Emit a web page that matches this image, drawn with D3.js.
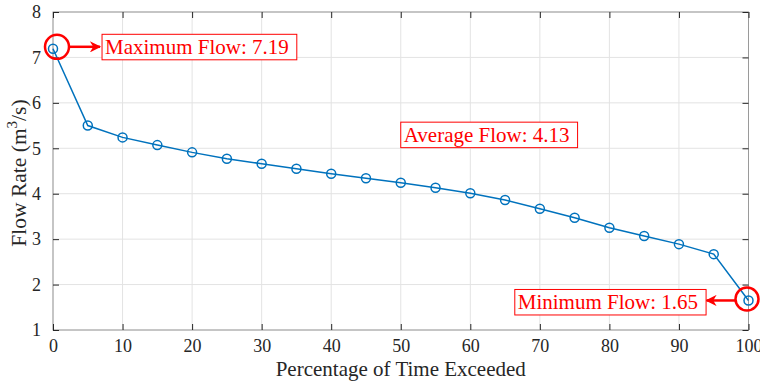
<!DOCTYPE html>
<html>
<head>
<meta charset="utf-8">
<script src="https://cdn.jsdelivr.net/npm/d3@7"></script>
<style>
  body { margin: 0; background: #fff; }
  text { font-family: "Liberation Serif", "Times New Roman", serif; }
</style>
</head>
<body>
<svg id="chart" width="760" height="382"></svg>
<script>
const exceedance = [0, 5, 10, 15, 20, 25, 30, 35, 40, 45, 50, 55, 60, 65, 70, 75, 80, 85, 90, 95, 100];
const flowRate = [7.19, 5.5, 5.24, 5.07, 4.91, 4.77, 4.66, 4.55, 4.44, 4.34, 4.24, 4.13, 4.01, 3.86, 3.67, 3.47, 3.25, 3.07, 2.89, 2.67, 1.65];
const xTicks = [0, 10, 20, 30, 40, 50, 60, 70, 80, 90, 100];
const yTicks = [1, 2, 3, 4, 5, 6, 7, 8];
const avgFlow = 4.13;

const margin = { top: 12, right: 11.5, bottom: 52, left: 53 };
const drawWidth = 760;
const drawHeight = 382;
const width = drawWidth - margin.left - margin.right;
const height = drawHeight - margin.top - margin.bottom;

const lineColor = "#0072bd";
const red = "#ff0000";
const axisColor = "#262626";
const serif = "'Liberation Serif', 'Times New Roman', serif";

const svg = d3.select("#chart");
const g = svg.append("g").attr("transform", "translate(" + margin.left + "," + margin.top + ")");

const xScale = d3.scaleLinear().domain([0, 100]).range([0, width]);
const yScale = d3.scaleLinear().domain([1, 8]).range([height, 0]);

// grid
g.append("g")
  .selectAll("line")
  .data(xTicks)
  .enter()
  .append("line")
  .attr("x1", (d) => xScale(d))
  .attr("x2", (d) => xScale(d))
  .attr("y1", 0)
  .attr("y2", height)
  .attr("stroke", "#e3e3e3");

g.append("g")
  .selectAll("line")
  .data(yTicks)
  .enter()
  .append("line")
  .attr("x1", 0)
  .attr("x2", width)
  .attr("y1", (d) => yScale(d))
  .attr("y2", (d) => yScale(d))
  .attr("stroke", "#e3e3e3");

// box
g.append("rect")
  .attr("x", 0)
  .attr("y", 0)
  .attr("width", width)
  .attr("height", height)
  .attr("fill", "none")
  .attr("stroke", "#9a9a9a");

// axes, ticks pointing inward
const fmt = d3.format("d");
const xAxis = d3.axisBottom(xScale).tickValues(xTicks).tickFormat(fmt).tickSize(-6).tickPadding(9);
const yAxis = d3.axisLeft(yScale).tickValues(yTicks).tickFormat(fmt).tickSize(-6).tickPadding(12);
const xTop = d3.axisTop(xScale).tickValues(xTicks).tickSize(-6).tickFormat("");
const yRight = d3.axisRight(yScale).tickValues(yTicks).tickSize(-6).tickFormat("");

const gx = g.append("g").attr("transform", "translate(0," + height + ")").call(xAxis);
const gy = g.append("g").call(yAxis);
const gxt = g.append("g").call(xTop);
const gyr = g.append("g").attr("transform", "translate(" + width + ",0)").call(yRight);

[gx, gy, gxt, gyr].forEach((a) => {
  a.attr("font-family", serif).attr("font-size", 18);
  a.select(".domain").remove();
  a.selectAll(".tick line").attr("stroke", axisColor);
  a.selectAll("text").attr("fill", axisColor).style("font-size", "18px");
});

// axis labels
g.append("text")
  .attr("x", width / 2)
  .attr("y", height + 46)
  .attr("text-anchor", "middle")
  .attr("fill", axisColor)
  .style("font-size", "21px")
  .text("Percentage of Time Exceeded");

const yLabel = g.append("text")
  .attr("transform", "translate(-27," + (height / 2 + 2) + ") rotate(-90)")
  .attr("text-anchor", "middle")
  .attr("fill", axisColor)
  .style("font-size", "21.5px");
yLabel.append("tspan").text("Flow Rate (m");
yLabel.append("tspan").attr("dy", -9).style("font-size", "15px").text("3");
yLabel.append("tspan").attr("dy", 9).text("/s)");

// line + markers
const line = d3.line()
  .x((d, i) => xScale(exceedance[i]))
  .y((d) => yScale(d));

g.append("path")
  .datum(flowRate)
  .attr("d", line)
  .attr("fill", "none")
  .attr("stroke", lineColor)
  .attr("stroke-width", 1.5);

g.selectAll(".marker")
  .data(flowRate)
  .enter()
  .append("circle")
  .attr("class", "marker")
  .attr("cx", (d, i) => xScale(exceedance[i]))
  .attr("cy", (d) => yScale(d))
  .attr("r", 4.5)
  .attr("fill", "none")
  .attr("stroke", lineColor)
  .attr("stroke-width", 1.5);

// annotations
const maxIdx = flowRate.indexOf(d3.max(flowRate));
const minIdx = flowRate.indexOf(d3.min(flowRate));

svg.append("defs").append("marker")
  .attr("id", "arrow")
  .attr("viewBox", "0 0 10 10")
  .attr("refX", 9)
  .attr("refY", 5)
  .attr("markerWidth", 5.5)
  .attr("markerHeight", 4.5)
  .attr("markerUnits", "strokeWidth")
  .attr("orient", "auto")
  .append("path")
  .attr("d", "M0,0 L10,5 L0,10 L3,5 Z")
  .attr("fill", red);

// x = left edge of box, or right edge when alignRight
function labelBox(x, y, txt, alignRight) {
  const lg = g.append("g");
  const r = lg.append("rect");
  const t = lg.append("text")
    .attr("x", x)
    .attr("y", y)
    .attr("dy", "0.35em")
    .attr("fill", red)
    .style("font-size", "21px")
    .text(txt);
  let bb = t.node().getBBox();
  if (alignRight) {
    t.attr("x", x - bb.width - 8);
    bb = t.node().getBBox();
  } else {
    t.attr("x", x + 3);
    bb = t.node().getBBox();
  }
  r.attr("x", bb.x - 3)
    .attr("y", y - 12.5)
    .attr("width", bb.width + 11)
    .attr("height", 25.5)
    .attr("fill", "#fff")
    .attr("stroke", red)
    .attr("stroke-width", 1);
}

// max
const maxX = xScale(exceedance[maxIdx]);
const maxY = yScale(flowRate[maxIdx]);
g.append("circle")
  .attr("cx", maxX + 4)
  .attr("cy", maxY - 2)
  .attr("r", 12)
  .attr("fill", "none")
  .attr("stroke", red)
  .attr("stroke-width", 2.5);
g.append("line")
  .attr("x1", maxX + 16)
  .attr("y1", maxY - 2)
  .attr("x2", maxX + 47)
  .attr("y2", maxY - 2)
  .attr("stroke", red)
  .attr("stroke-width", 2.5)
  .attr("marker-end", "url(#arrow)");
labelBox(xScale(7.05), maxY - 2, "Maximum Flow: " + d3.max(flowRate).toFixed(2), false);

// average
labelBox(xScale(50), yScale(5.3), "Average Flow: " + avgFlow.toFixed(2), false);

// min
const minX = xScale(exceedance[minIdx]);
const minY = yScale(flowRate[minIdx]);
g.append("circle")
  .attr("cx", minX - 1.5)
  .attr("cy", minY - 1.5)
  .attr("r", 11.5)
  .attr("fill", "none")
  .attr("stroke", red)
  .attr("stroke-width", 2.5);
g.append("line")
  .attr("x1", minX - 13)
  .attr("y1", minY)
  .attr("x2", minX - 42)
  .attr("y2", minY)
  .attr("stroke", red)
  .attr("stroke-width", 2.5)
  .attr("marker-end", "url(#arrow)");
labelBox(xScale(93.9), minY + 1.5, "Minimum Flow: " + d3.min(flowRate).toFixed(2), true);
</script>
</body>
</html>
